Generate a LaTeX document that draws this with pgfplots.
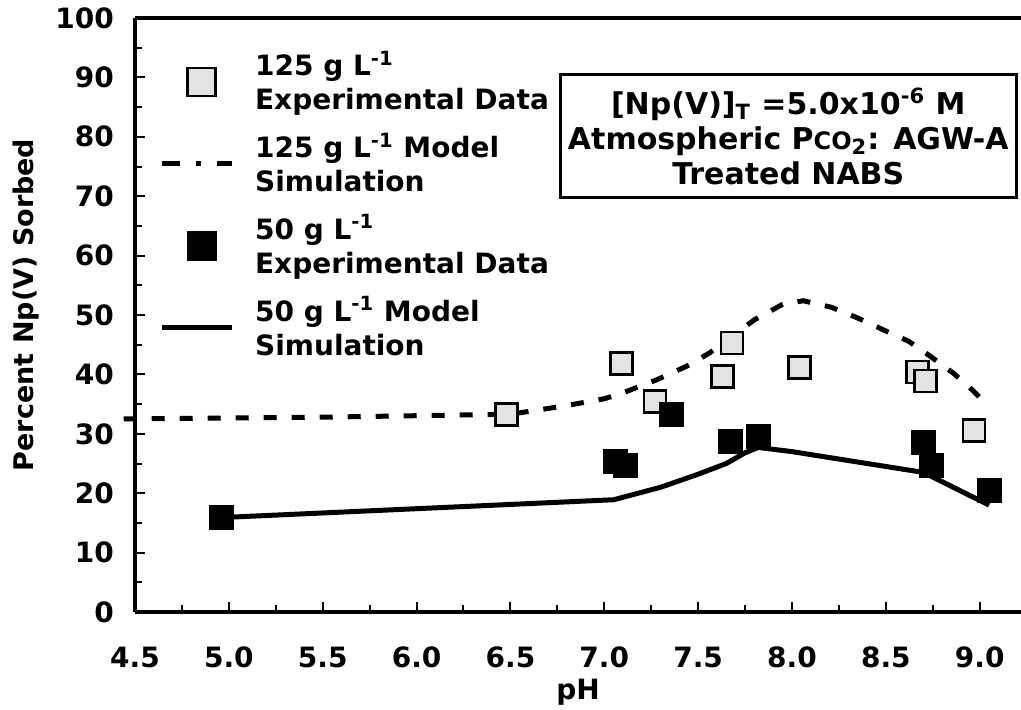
\documentclass[border=0pt]{standalone}
\usepackage{fontspec}
\setmainfont{DejaVu Sans}
\usepackage{pgfplots}
\pgfplotsset{compat=1.18}
\pgfplotsset{
    lineleg/.style={legend image code/.code={\draw[##1] (0pt,0pt) -- (35pt,0pt);}},
    markleg/.style={legend image code/.code={\draw[##1] plot coordinates {(20pt,0pt)};}},
}

% measured: 125 g/L and 50 g/L series, pH vs percent sorbed
\pgfplotstableread{
x y
6.48 33.2
7.09 41.8
7.27 35.5
7.63 39.7
7.68 45.3
8.04 41.2
8.67 40.4
8.71 38.9
8.97 30.5
}\expA

\pgfplotstableread{
x y
4.96 15.9
7.06 25.4
7.11 24.7
7.36 33.3
7.67 28.8
7.82 29.5
8.70 28.6
8.74 24.7
9.05 20.4
}\expB

\begin{document}
\begin{tikzpicture}[font=\fontsize{14}{17}\selectfont\bfseries]
\begin{axis}[
    scale only axis,
    width=443pt, height=297pt,
    xmin=4.5, xmax=9.22,
    ymin=0, ymax=100,
    axis x line*=bottom, axis y line*=left,
    axis line style={line width=2.2pt, -},
    clip=false,
    xtick={4.5,5.0,...,9.0},
    xticklabels={},
    ytick={0,10,...,100},
    minor x tick num=1, minor y tick num=1,
    tick align=inside,
    major tick length=5pt, minor tick length=3.5pt,
    tick style={line width=1pt, black},
    /pgf/number format/assume math mode=true,
    yticklabel shift=7pt,
    xlabel={pH},
    ylabel={Percent Np(V) Sorbed},
    every axis x label/.style={at={(axis description cs:0.5,-0.135)}, anchor=center},
    every axis y label/.style={at={(axis description cs:-0.123,0.517)}, rotate=90, anchor=center,
        font=\fontsize{13.5}{15}\selectfont\bfseries},
    legend cell align=left,
    legend style={draw=none, fill=none, at={(axis description cs:0.02,0.955)}, anchor=north west,
        row sep=8pt, column sep=9.5pt, nodes={align=left, inner sep=1pt}},
]
\addplot[only marks, mark=square*, mark size=5.5pt,
    mark options={fill=gray!22, draw=black, line width=1.4pt},
    markleg, legend image post style={mark size=7pt}]
    table {\expA};
\addlegendentry{125 g L\textsuperscript{-1}\\Experimental Data}

\addplot[black, line width=2.5pt, dash pattern=on 6.5pt off 7.5pt, lineleg,
    legend image post style={dash pattern=on 9pt off 8pt on 2.5pt off 8pt}] coordinates {
    (4.44,32.5) (5.5,32.8) (6.5,33.3) (6.79,34.7) (7.0,35.9) (7.1,36.9)
    (7.28,39.1) (7.44,41.4) (7.56,43.6) (7.80,49.2) (7.95,51.8) (8.06,52.4)
    (8.21,51.3) (8.35,49.5) (8.48,47.6) (8.62,45.6) (8.70,43.9) (8.86,40.2)
    (8.96,37.4) (9.02,35.5)
};
\addlegendentry{125 g L\textsuperscript{-1} Model\\Simulation}

\addplot[only marks, mark=square*, mark size=6pt,
    mark options={fill=black, draw=black},
    markleg, legend image post style={mark size=7.25pt}]
    table {\expB};
\addlegendentry{50 g L\textsuperscript{-1}\\Experimental Data}

\addplot[black, line width=2.5pt, lineleg] coordinates {
    (4.96,15.9) (7.05,18.9) (7.3,21.0) (7.5,23.2) (7.65,25.0) (7.75,26.8)
    (7.82,27.7) (8.0,27.0) (8.7,23.5) (9.05,18.0)
};
\addlegendentry{50 g L\textsuperscript{-1} Model\\Simulation}

% x tick labels sit well below the axis line in the original
\pgfplotsinvokeforeach{4.5,5.0,5.5,6.0,6.5,7.0,7.5,8.0,8.5,9.0}{
    \node[anchor=center, yshift=-22.5pt] at (axis cs:#1,0) {#1};
}

\draw[line width=2.2pt] (rel axis cs:0,1) -- (rel axis cs:1,1);

\node[draw, line width=1.5pt, align=center, minimum width=228pt, minimum height=61.5pt,
    font=\fontsize{15}{17.5}\selectfont\bfseries] at (axis cs:7.98,80.1)
    {[Np(V)]\textsubscript{T} =5.0x10\textsuperscript{-6} M\\
     Atmospheric P{\fontsize{12}{12}\selectfont CO}\textsubscript{2}: AGW-A\\
     Treated NABS};
\end{axis}
\pgfresetboundingbox
\useasboundingbox (-67.5pt,-48.5pt) rectangle (443pt,306pt);
\end{tikzpicture}
\end{document}
